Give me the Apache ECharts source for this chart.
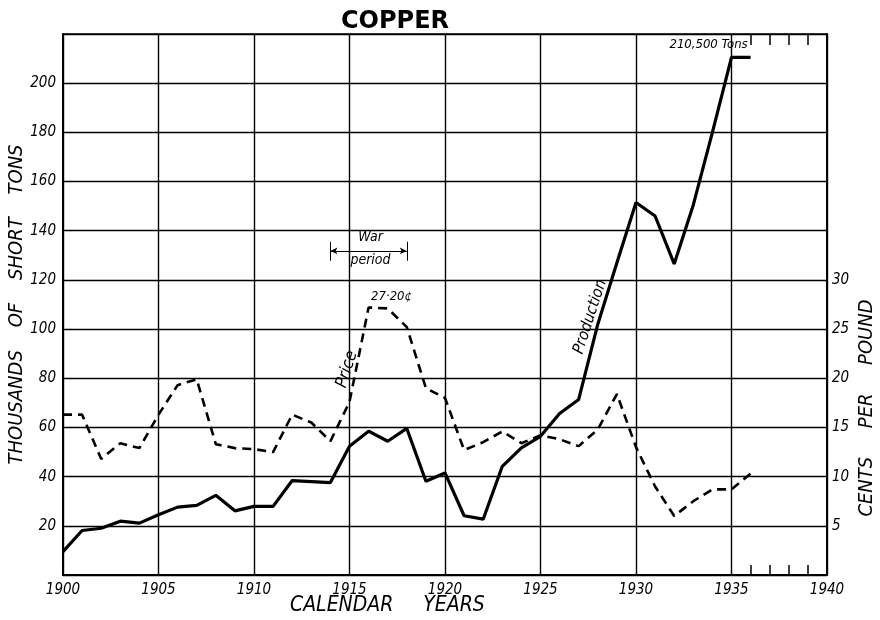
<!DOCTYPE html>
<html><head><meta charset="utf-8">
<script src="https://cdn.jsdelivr.net/npm/echarts@6/dist/echarts.min.js"></script>
<style>html,body{margin:0;padding:0;background:#fff}#c{width:880px;height:620px}</style>
</head><body><div id="c"></div>
<script>
const years = [1900,1901,1902,1903,1904,1905,1906,1907,1908,1909,1910,1911,1912,1913,1914,1915,1916,1917,1918,1919,1920,1921,1922,1923,1924,1925,1926,1927,1928,1929,1930,1931,1932,1933,1934,1935,1936];
const production = [9.5,18.1,19.0,21.9,21.1,24.5,27.6,28.3,32.4,26.1,27.9,27.9,38.4,38.0,37.6,52.4,58.5,54.4,59.6,38.1,41.5,24.1,22.7,44.2,51.7,56.4,65.7,71.4,102,127,151.5,146,126.5,150.5,180,210.5,210.5];
const price = [16.3,16.3,11.8,13.4,12.9,16.3,19.3,19.9,13.3,12.9,12.8,12.5,16.3,15.5,13.6,17.6,27.2,27.1,25.2,19.0,18.0,12.7,13.5,14.6,13.4,14.2,13.8,13.1,14.8,18.4,13.0,9.0,6.0,7.5,8.7,8.7,10.3];
const tickYears = [];
for (let y = 1900; y <= 1940; y++) tickYears.push(String(y));
const leftTicks = [20,40,60,80,100,120,140,160,180,200];
const rightTicks = [5,10,15,20,25,30];

const FONT = "'DejaVu Sans Condensed', 'DejaVu Sans'";
const lab = {fontFamily: FONT, fontStyle: 'italic', fontSize: 15, color: '#000'};

const chart = echarts.init(document.getElementById('c'));
chart.setOption({
  animation: false,
  backgroundColor: '#fff',
  title: {text: 'COPPER', left: 336, top: 5,
    textStyle: {fontFamily: 'DejaVu Sans', fontWeight: 'bold', fontSize: 24, color: '#000'}},
  grid: {left: 63, right: 53, top: 34, bottom: 45, containLabel: false, outerBoundsMode: 'none'},
  xAxis: [
    {type: 'value', min: 1900, max: 1940, interval: 5, position: 'bottom',
     axisLine: {lineStyle: {color: '#000', width: 2}},
     axisTick: {show: false},
     axisLabel: Object.assign({margin: 8, formatter: v => String(v)}, lab),
     splitLine: {show: true, lineStyle: {color: '#000', width: 1.4}}},
    {type: 'category', data: tickYears, boundaryGap: false, position: 'bottom',
     axisLine: {show: false},
     axisTick: {show: true, inside: true, length: 10, interval: function (i) { return i >= 36 && i <= 39; },
       lineStyle: {color: '#000', width: 1.5}},
     axisLabel: {show: false}, splitLine: {show: false}},
    {type: 'category', data: tickYears, boundaryGap: false, position: 'top',
     axisLine: {show: true, lineStyle: {color: '#000', width: 1.5}},
     axisTick: {show: true, inside: true, length: 11, interval: function (i) { return i >= 36 && i <= 39; },
       lineStyle: {color: '#000', width: 1.5}},
     axisLabel: {show: false}, splitLine: {show: false}}
  ],
  yAxis: [
    {type: 'value', min: 0, max: 220, interval: 20, position: 'left',
     axisLine: {show: true, lineStyle: {color: '#000', width: 2}},
     axisTick: {show: false},
     axisLabel: Object.assign({margin: 7, formatter: v => leftTicks.indexOf(v) >= 0 ? String(v) : ''}, lab),
     splitLine: {show: true, lineStyle: {color: '#000', width: 1.4}},
     name: 'THOUSANDS    OF    SHORT    TONS', nameLocation: 'middle', nameGap: 36, nameRotate: 90,
     nameMoveOverlap: false,
     nameTextStyle: {fontFamily: FONT, fontStyle: 'italic', fontSize: 20, color: '#000'}},
    {type: 'value', min: 0, max: 55, interval: 5, position: 'right',
     axisLine: {show: true, lineStyle: {color: '#000', width: 2}},
     axisTick: {show: false},
     axisLabel: Object.assign({margin: 5, formatter: v => rightTicks.indexOf(v) >= 0 ? String(v) : ''}, lab),
     splitLine: {show: false}}
  ],
  graphic: [
    {type: 'text', left: 290, top: 595, style: {text: 'CALENDAR     YEARS', fontFamily: FONT, fontStyle: 'italic', fontSize: 21, fill: '#000'}},
    {type: 'text', x: 867, y: 408, rotation: Math.PI / 2,
     style: {text: 'CENTS     PER     POUND', fontFamily: FONT, fontStyle: 'italic', fontSize: 20, fill: '#000', align: 'center', verticalAlign: 'middle'}}
  ],
  series: [
    {name: 'Production', type: 'line', xAxisIndex: 0, yAxisIndex: 0, symbol: 'none',
     data: years.map((y, i) => [y, production[i]]),
     lineStyle: {color: '#000', width: 3.2}, z: 5,
     markPoint: {symbol: 'rect', symbolSize: 1, itemStyle: {color: 'rgba(0,0,0,0)'},
       label: {show: true, position: 'inside', fontFamily: FONT, fontStyle: 'italic', fontSize: 15, color: '#000'},
       data: [
         {coord: [1927.6, 105], value: 'Production', label: {formatter: 'Production', rotate: 72, fontSize: 16}},
         {coord: [1933.8, 215.5], value: 't', label: {formatter: '210,500 Tons', fontSize: 13}},
         {coord: [1916.1, 137.5], value: 'w', label: {formatter: 'War', fontSize: 14}},
         {coord: [1916.1, 128], value: 'p', label: {formatter: 'period', fontSize: 14}}
       ]},
     markLine: {silent: true, symbol: ['arrow', 'arrow'], symbolSize: [5, 7],
       lineStyle: {color: '#000', width: 1, type: 'solid'}, label: {show: false},
       data: [
         [{coord: [1914, 131.8]}, {coord: [1918, 131.8]}],
         [{coord: [1914, 135.5], symbol: 'none'}, {coord: [1914, 127.8], symbol: 'none'}],
         [{coord: [1918, 135.5], symbol: 'none'}, {coord: [1918, 127.8], symbol: 'none'}]
       ]}},
    {name: 'Price', type: 'line', xAxisIndex: 0, yAxisIndex: 1, symbol: 'none',
     data: years.map((y, i) => [y, price[i]]),
     lineStyle: {color: '#000', width: 2.6, type: [9, 6]}, z: 4,
     markPoint: {symbol: 'rect', symbolSize: 1, itemStyle: {color: 'rgba(0,0,0,0)'},
       label: {show: true, position: 'inside', fontFamily: FONT, fontStyle: 'italic', fontSize: 15, color: '#000'},
       data: [
         {coord: [1914.87, 20.9], value: 'Price', label: {formatter: 'Price', rotate: 72, fontSize: 17}},
         {coord: [1917.2, 28.3], value: 'c', label: {formatter: '27·20¢', fontSize: 13}}
       ]}}
  ]
});
</script></body></html>
